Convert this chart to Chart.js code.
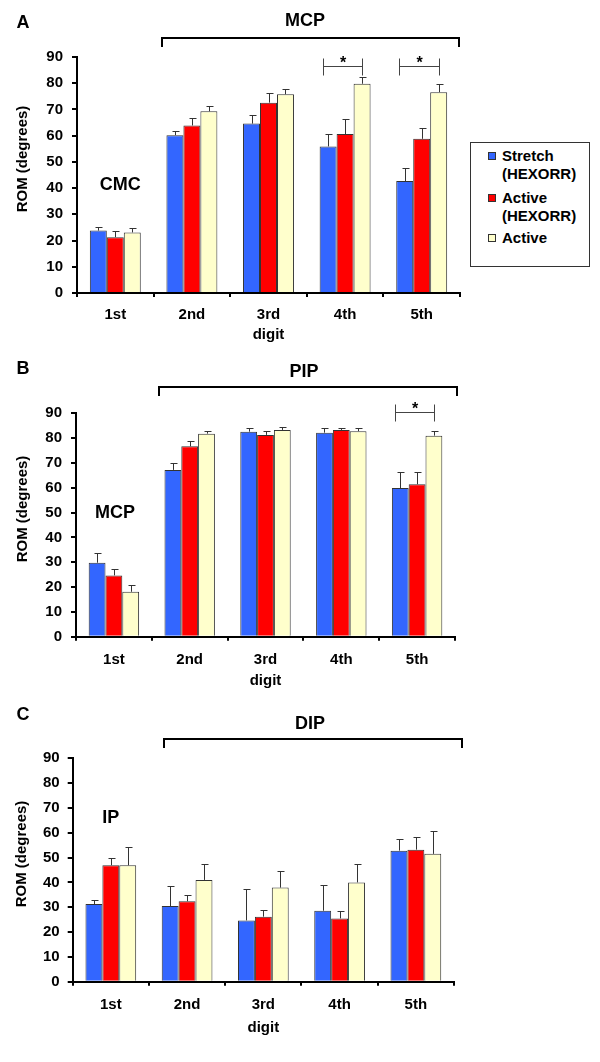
<!DOCTYPE html>
<html>
<head>
<meta charset="utf-8">
<script src="https://cdn.jsdelivr.net/npm/chart.js@4.4.0/dist/chart.umd.min.js"></script>
<style>
  html, body { margin: 0; padding: 0; background: #fff; }
  body { width: 600px; height: 1062px; position: relative; overflow: hidden;
         font-family: Arial, "Liberation Sans", sans-serif; }
  canvas { position: absolute; left: 0; }
  #legend { position: absolute; left: 470px; top: 142px; width: 120px; height: 125px;
            border: 1px solid #333; box-sizing: border-box; }
  #legend .item { position: absolute; left: 0; font: bold 15px/18px Arial, "Liberation Sans", sans-serif; }
  #legend .sw { position: absolute; left: 17px; top: 5px; width: 8px; height: 8px;
                border: 1px solid #333; box-sizing: border-box; }
  #legend .txt { position: absolute; left: 31px; top: 0; white-space: nowrap; }
</style>
</head>
<body>
<canvas id="chartA" width="470" height="350" style="top:0"></canvas>
<canvas id="chartB" width="470" height="350" style="top:350px"></canvas>
<canvas id="chartC" width="470" height="362" style="top:700px"></canvas>
<div id="legend"></div>

<script>
'use strict';

// ── Data ─────────────────────────────────────────────────────────────────────

const digits = ['1st', '2nd', '3rd', '4th', '5th'];
const seriesNames = ['Stretch (HEXORR)', 'Active (HEXORR)', 'Active'];
const seriesColors = ['#3366ff', '#ff0000', '#ffffcc'];
const yTicks = [0, 10, 20, 30, 40, 50, 60, 70, 80, 90];

// A: CMC (1st) / MCP (2nd-5th)
const stretchA     = [23.8, 60.2, 64.6, 55.9, 42.7];
const stretchErrA  = [1.5, 1.4, 3.2, 4.9, 5.1];
const activeHexA   = [21.3, 63.9, 72.6, 60.6, 58.8];
const activeHexErrA = [2.3, 2.9, 3.6, 5.6, 4.3];
const activeA      = [23.1, 69.3, 75.8, 79.8, 76.6];
const activeErrA   = [1.5, 2.2, 2.1, 2.6, 3.2];
const sigA = [3, 4];

// B: MCP (1st) / PIP (2nd-5th)
const stretchB     = [29.8, 67.2, 82.6, 82.2, 59.9];
const stretchErrB  = [3.8, 2.7, 1.5, 1.9, 6.3];
const activeHexB   = [24.7, 76.7, 81.3, 83.3, 61.4];
const activeHexErrB = [2.4, 2.2, 1.7, 0.8, 4.8];
const activeB      = [18.1, 81.8, 83.3, 82.8, 81.0];
const activeErrB   = [2.6, 1.2, 1.2, 1.3, 2.0];
const sigB = [4];

// C: IP (1st) / DIP (2nd-5th)
const stretchC     = [31.3, 30.5, 24.7, 28.6, 52.8];
const stretchErrC  = [1.5, 8.2, 12.8, 10.2, 4.8];
const activeHexC   = [46.9, 32.4, 26.2, 25.5, 53.2];
const activeHexErrC = [3.1, 2.7, 2.8, 3.1, 5.0];
const activeC      = [46.9, 41.0, 37.9, 40.0, 51.5];
const activeErrC   = [7.2, 6.3, 6.8, 7.3, 9.2];
const sigC = [];

// ── Helpers ──────────────────────────────────────────────────────────────────

const FONT = 'Arial, "Liberation Sans", sans-serif';
Chart.defaults.font.family = FONT;
Chart.defaults.color = '#000';

function bold(size) { return 'bold ' + size + 'px ' + FONT; }

// error bars, brackets and panel labels
const panelDecor = {
  id: 'panelDecor',
  afterDatasetsDraw(chart, args, o) {
    const ctx = chart.ctx, y = chart.scales.y;
    ctx.save();
    ctx.strokeStyle = '#333';
    ctx.lineWidth = 1;
    chart.data.datasets.forEach((ds, di) => {
      chart.getDatasetMeta(di).data.forEach((bar, i) => {
        const top = Math.round(y.getPixelForValue(ds.data[i] + ds.errors[i])) + 0.5;
        const cx = Math.round(bar.x) + 0.5;
        ctx.beginPath();
        ctx.moveTo(cx, bar.y);
        ctx.lineTo(cx, top);
        ctx.moveTo(cx - 3, top);
        ctx.lineTo(cx + 4, top);
        ctx.stroke();
      });
    });
    ctx.restore();
  },
  afterDraw(chart, args, o) {
    const ctx = chart.ctx, x = chart.scales.x, y = chart.scales.y;
    const area = chart.chartArea;
    ctx.save();
    ctx.fillStyle = '#000';
    ctx.textAlign = 'center';
    ctx.textBaseline = 'middle';

    // panel letter
    ctx.font = bold(18);
    ctx.fillText(o.letter, 23, o.letterY);

    // y axis title
    ctx.save();
    ctx.translate(o.yTitleX, (area.top + area.bottom) / 2 - 16);
    ctx.rotate(-Math.PI / 2);
    ctx.font = bold(15);
    ctx.fillText('ROM (degrees)', 0, 0);
    ctx.restore();

    // joint label on the thumb group
    ctx.font = bold(18);
    ctx.fillText(o.joint, x.getPixelForValue(0) + o.jointDx, y.getPixelForValue(o.jointValue));

    // group bracket over 2nd-5th
    const [bx1, bx2, by] = o.bracket;
    ctx.fillText(o.group, o.groupX, o.groupY);
    ctx.strokeStyle = '#000';
    ctx.lineWidth = 2;
    ctx.beginPath();
    ctx.moveTo(bx1, by + 9);
    ctx.lineTo(bx1, by);
    ctx.lineTo(bx2, by);
    ctx.lineTo(bx2, by + 9);
    ctx.stroke();

    // significance brackets (stretch vs active)
    const first = chart.getDatasetMeta(0), last = chart.getDatasetMeta(2);
    const sy = Math.round(y.getPixelForValue(o.sigLevel)) + 0.5;
    ctx.strokeStyle = '#444';
    ctx.lineWidth = 1;
    ctx.font = bold(16);
    ctx.textBaseline = 'alphabetic';
    o.sig.forEach(i => {
      const b0 = first.data[i], b2 = last.data[i];
      const x1 = Math.round(b0.x - b0.width / 2 + 3) + 0.5;
      const x2 = Math.round(b2.x) + 0.5;
      ctx.beginPath();
      ctx.moveTo(x1, sy - 8); ctx.lineTo(x1, sy + 9);
      ctx.moveTo(x2, sy - 8); ctx.lineTo(x2, sy + 9);
      ctx.moveTo(x1, sy); ctx.lineTo(x2, sy);
      ctx.stroke();
      ctx.fillText('*', (x1 + x2) / 2, sy + 1);
    });
    ctx.restore();
  },
};

function makePanel(id, series, errors, p) {
  const H = p.height;
  return new Chart(document.getElementById(id), {
    type: 'bar',
    data: {
      labels: digits,
      datasets: series.map((vals, k) => ({
        label: seriesNames[k],
        data: vals,
        errors: errors[k],
        backgroundColor: seriesColors[k],
        borderColor: '#333',
        borderWidth: 1,
        categoryPercentage: 0.665,
        barPercentage: 1.0,
      })),
    },
    options: {
      responsive: false,
      animation: false,
      events: [],
      layout: { padding: { top: p.area.top, right: 470 - p.area.right, left: 0, bottom: 0 } },
      plugins: {
        legend: { display: false },
        tooltip: { enabled: false },
        panelDecor: p.decor,
      },
      scales: {
        x: {
          afterFit: s => { s.height = H - p.area.bottom; },
          border: { display: true, color: '#000', width: 2 },
          grid: { display: true, drawOnChartArea: false, drawTicks: true, tickLength: 4, color: '#000', lineWidth: 2, offset: true },
          ticks: { font: { size: 15, weight: 'bold' }, color: '#000', padding: p.xTickPad, maxRotation: 0 },
          title: { display: true, text: 'digit', font: { size: 15, weight: 'bold' }, color: '#000', padding: { top: 0, bottom: p.titlePad } },
        },
        y: {
          min: 0, max: 90,
          afterFit: s => { s.width = p.area.left; },
          afterBuildTicks: s => { s.ticks = yTicks.map(v => ({ value: v })); },
          border: { display: true, color: '#000', width: 2 },
          grid: { display: true, drawOnChartArea: false, drawTicks: true, tickLength: 5, color: '#000', lineWidth: 2 },
          ticks: { font: { size: 15, weight: 'bold' }, color: '#000', padding: p.yTickPad },
        },
      },
    },
    plugins: [panelDecor],
  });
}

// ── Panels ───────────────────────────────────────────────────────────────────

const chartA = makePanel('chartA',
  [stretchA, activeHexA, activeA], [stretchErrA, activeHexErrA, activeErrA], {
    height: 350, area: { left: 77, right: 460, top: 57, bottom: 293 },
    xTickPad: 9, yTickPad: 9, titlePad: 6,
    decor: { letter: 'A', letterY: 23, yTitleX: 23, joint: 'CMC', jointDx: 5, jointValue: 41,
             group: 'MCP', groupX: 305, groupY: 21, bracket: [162, 459, 38],
             sig: sigA, sigLevel: 86.6 },
  });

const chartB = makePanel('chartB',
  [stretchB, activeHexB, activeB], [stretchErrB, activeHexErrB, activeErrB], {
    height: 350, area: { left: 76, right: 455, top: 63.3, bottom: 286.7 },
    xTickPad: 10, yTickPad: 9, titlePad: 10,
    decor: { letter: 'B', letterY: 19, yTitleX: 23, joint: 'MCP', jointDx: 1, jointValue: 50,
             group: 'PIP', groupX: 304, groupY: 22, bracket: [159, 457, 37],
             sig: sigB, sigLevel: 90.4 },
  });

const chartC = makePanel('chartC',
  [stretchC, activeHexC, activeC], [stretchErrC, activeHexErrC, activeErrC], {
    height: 362, area: { left: 72.7, right: 454, top: 58.3, bottom: 281.7 },
    xTickPad: 10, yTickPad: 8, titlePad: 25,
    decor: { letter: 'C', letterY: 15, yTitleX: 22, joint: 'IP', jointDx: 0, jointValue: 66,
             group: 'DIP', groupX: 310, groupY: 24, bracket: [164, 462, 39],
             sig: sigC, sigLevel: 90 },
  });

// ── Legend ───────────────────────────────────────────────────────────────────

const legendTops = [4, 46, 86];
document.getElementById('legend').innerHTML = seriesNames.map((name, k) =>
  `<div class="item" style="top:${legendTops[k]}px">
     <span class="sw" style="background:${seriesColors[k]}"></span>
     <span class="txt">${name.replace(' (', '<br>(')}</span>
   </div>`).join('');
</script>
</body>
</html>
